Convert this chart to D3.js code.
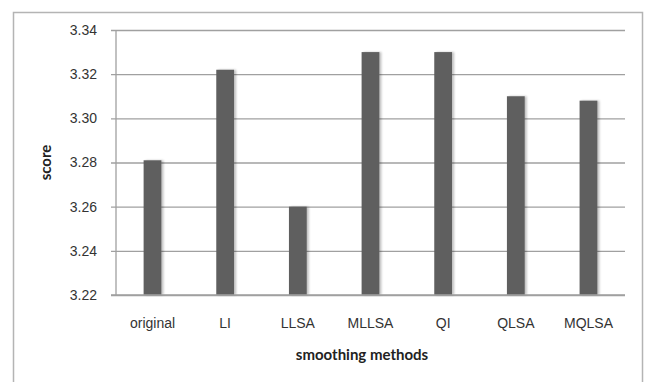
<!DOCTYPE html>
<html>
<head>
<meta charset="utf-8">
<script src="https://cdn.jsdelivr.net/npm/d3@7"></script>
<style>
  html, body { margin: 0; padding: 0; background: #fff; }
  svg { display: block; font-family: Lato, "Open Sans", sans-serif; }
</style>
</head>
<body>
<svg id="chart" width="648" height="382"></svg>
<script>
const categories = ["original", "LI", "LLSA", "MLLSA", "QI", "QLSA", "MQLSA"];
const scores = [3.281, 3.322, 3.260, 3.330, 3.330, 3.310, 3.308];
const yTicks = [3.22, 3.24, 3.26, 3.28, 3.30, 3.32, 3.34];
const xTitle = "smoothing methods";
const yTitle = "score";

const svg = d3.select("#chart");
const plot = { left: 116, right: 625, top: 30, bottom: 295 };

// outer chart frame (bottom edge runs off the page)
svg.append("rect")
  .attr("x", 13.5).attr("y", 12.5)
  .attr("width", 629).attr("height", 400)
  .attr("fill", "none").attr("stroke", "#b4b4b4").attr("stroke-width", 1.5);

const x = d3.scaleBand().domain(categories).range([plot.left, plot.right]).paddingInner(0.755).paddingOuter(0.38);
const y = d3.scaleLinear().domain([3.22, 3.34]).range([plot.bottom, plot.top]);

// horizontal gridlines with left-side ticks
const yAxis = d3.axisLeft(y).tickValues(yTicks).tickFormat(d3.format(".2f"))
  .tickSize(-(plot.right - plot.left)).tickPadding(14);
const gy = svg.append("g").attr("transform", `translate(${plot.left},0)`).call(yAxis);
gy.select(".domain").remove();
gy.selectAll(".tick line").attr("stroke", "#a0a0a0").attr("stroke-width", 1.3).attr("x1", -5);
gy.selectAll(".tick text").attr("fill", "#333").attr("font-size", 14).attr("x", -19);

// vertical axis line
svg.append("line")
  .attr("x1", plot.left).attr("x2", plot.left)
  .attr("y1", plot.top).attr("y2", plot.bottom)
  .attr("stroke", "#a0a0a0").attr("stroke-width", 1.3);

// soft shadow behind bars
const defs = svg.append("defs");
const f = defs.append("filter").attr("id", "shadow").attr("x", "-50%").attr("y", "-10%").attr("width", "200%").attr("height", "120%");
f.append("feGaussianBlur").attr("in", "SourceAlpha").attr("stdDeviation", 1.2).attr("result", "b");
f.append("feOffset").attr("in", "b").attr("dx", 1.5).attr("dy", 0).attr("result", "o");
f.append("feComponentTransfer").attr("in", "o").attr("result", "s")
  .append("feFuncA").attr("type", "linear").attr("slope", 0.25);
const m = f.append("feMerge");
m.append("feMergeNode").attr("in", "s");
m.append("feMergeNode").attr("in", "SourceGraphic");

svg.append("g").selectAll("rect")
  .data(categories.map((c, i) => ({ c, v: scores[i] })))
  .join("rect")
  .attr("x", d => x(d.c))
  .attr("width", x.bandwidth())
  .attr("y", d => y(d.v))
  .attr("height", d => y(3.22) - y(d.v))
  .attr("fill", "#5f5f5f")
  .attr("filter", "url(#shadow)");

// category axis
const xAxis = d3.axisBottom(x).tickSize(0).tickPadding(23);
const gx = svg.append("g").attr("transform", `translate(0,${plot.bottom})`).call(xAxis);
gx.select(".domain").remove();
gx.selectAll(".tick text").attr("fill", "#333").attr("font-size", 14);
svg.append("line")
  .attr("x1", plot.left - 5).attr("x2", plot.right)
  .attr("y1", plot.bottom).attr("y2", plot.bottom)
  .attr("stroke", "#a0a0a0").attr("stroke-width", 1.3);

// axis titles
svg.append("text")
  .attr("x", 362).attr("y", 360)
  .attr("text-anchor", "middle").attr("font-size", 15).attr("font-weight", "bold").attr("fill", "#222")
  .text(xTitle);
svg.append("text")
  .attr("transform", `translate(51,${(plot.top + plot.bottom) / 2}) rotate(-90)`)
  .attr("text-anchor", "middle").attr("font-size", 15).attr("font-weight", "bold").attr("fill", "#222")
  .text(yTitle);
</script>
</body>
</html>
